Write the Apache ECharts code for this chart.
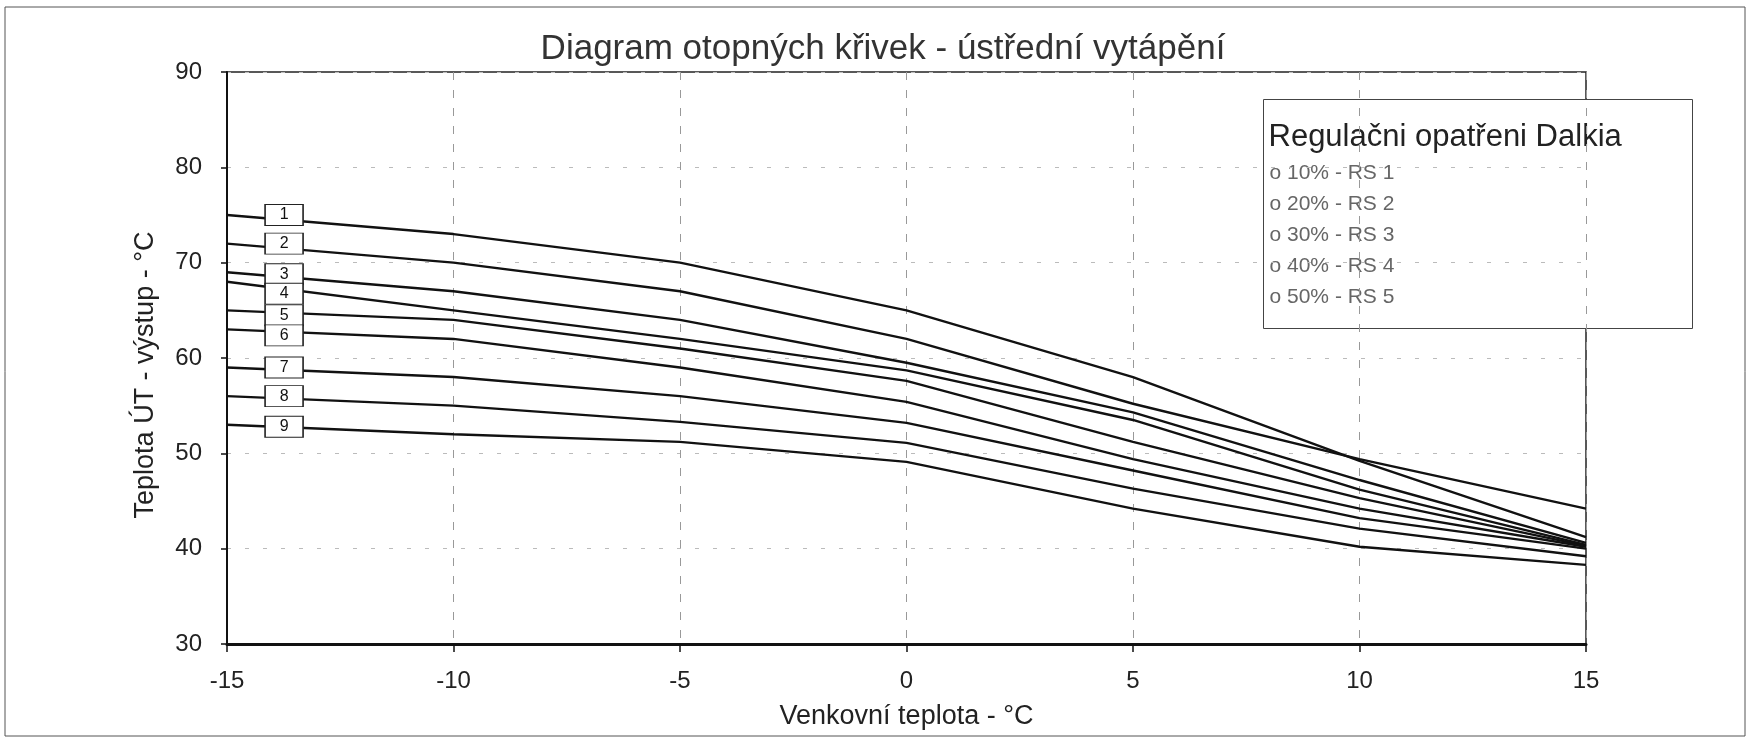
<!doctype html>
<html lang="cs">
  <head>
    <meta charset="UTF-8" />
    <title>Diagram otopných křivek</title>
    <style>
      html,
      body {
        width: 100%;
        height: 100%;
        margin: 0;
        padding: 0;
        background: #fff;
      }
      #Echart {
        width: 1751px;
        height: 740px;
      }
    </style>
  </head>

  <body>
    <div id="Echart"></div>
    <script type="text/javascript" src="https://cdn.jsdelivr.net/npm/echarts@6/dist/echarts.min.js"></script>
    <script type="text/javascript">
      // venkovni teplota (osa x)
      const outdoorTemps = [-15, -10, -5, 0, 5, 10, 15]
      // teplota UT - vystup pro krivky 1..9
      const curve1 = [75, 73, 70, 65, 58, 49.2, 41.2]
      const curve2 = [72, 70, 67, 62, 55.2, 49.4, 44.2]
      const curve3 = [69, 67, 64, 59.5, 54.3, 47.2, 40.6]
      const curve4 = [68, 65, 62, 58.7, 53.5, 46.2, 40.4]
      const curve5 = [65, 64, 61, 57.6, 51.2, 45.3, 40.3]
      const curve6 = [63, 62, 59, 55.4, 49.4, 44.2, 40.2]
      const curve7 = [59, 58, 56, 53.2, 48.2, 43.2, 40]
      const curve8 = [56, 55, 53.3, 51.1, 46.3, 42.1, 39.2]
      const curve9 = [53, 52, 51.2, 49.1, 44.2, 40.2, 38.3]
      const curveNames = ['1', '2', '3', '4', '5', '6', '7', '8', '9']
      const yTicks = [30, 40, 50, 60, 70, 80, 90]
      const xTicks = [-15, -10, -5, 0, 5, 10, 15]
      const legendTitle = 'Regulačni opatřeni Dalkia'
      const legendItems = ['o 10% - RS 1', 'o 20% - RS 2', 'o 30% - RS 3', 'o 40% - RS 4', 'o 50% - RS 5']

      const curves = [curve1, curve2, curve3, curve4, curve5, curve6, curve7, curve8, curve9]
      // posun stitku (px), aby se krabicky 3-6 neprekryvaly
      const boxNudge = [0, 0, 2, 12, 5, 6, 0, 0, 2]
      const boxX = -13.74
      const font = 'Liberation Sans, Arial, sans-serif'

      let chart = null

      function initEchart() {
        const series = curves.map((vals, i) => ({
          name: curveNames[i],
          type: 'line',
          data: outdoorTemps.map((t, j) => [t, vals[j]]),
          showSymbol: false,
          symbol: 'none',
          lineStyle: { color: '#111', width: 2.4 },
          z: 3,
          markPoint: {
            symbol: 'rect',
            symbolSize: [38, 21],
            symbolOffset: [0, boxNudge[i]],
            itemStyle: { color: '#fff', borderColor: '#222', borderWidth: 1.2 },
            label: {
              show: true,
              position: 'inside',
              formatter: curveNames[i],
              color: '#111',
              fontSize: 16,
              fontFamily: font,
            },
            data: [{ coord: [boxX, vals[0]] }],
            animation: false,
          },
        }))

        const option = {
          animation: false,
          backgroundColor: '#fff',
          title: {
            text: 'Diagram otopných křivek - ústřední vytápění',
            left: 878,
            textAlign: 'center',
            top: 27,
            textStyle: {
              color: '#333',
              fontSize: 35,
              fontWeight: 'normal',
              fontFamily: font,
            },
          },
          grid: {
            left: 227,
            right: 165,
            top: 72,
            bottom: 96,
            show: true,
            borderColor: '#222',
            borderWidth: 1.5,
            backgroundColor: '#fff',
          },
          xAxis: {
            type: 'value',
            min: xTicks[0],
            max: xTicks[xTicks.length - 1],
            interval: 5,
            name: 'Venkovní teplota - °C',
            nameLocation: 'middle',
            nameGap: 59,
            nameTextStyle: {
              color: '#222',
              fontSize: 27,
              fontFamily: font,
            },
            axisLine: { show: true, onZero: false, lineStyle: { color: '#111', width: 3 } },
            axisTick: { show: true, length: 8, lineStyle: { color: '#111', width: 1.5 } },
            axisLabel: {
              margin: 25,
              color: '#222',
              fontSize: 24,
              fontFamily: font,
            },
            splitLine: {
              show: true,
              lineStyle: { color: '#999', type: [8, 10], width: 1 },
            },
          },
          yAxis: {
            type: 'value',
            min: yTicks[0],
            max: yTicks[yTicks.length - 1],
            interval: 10,
            name: 'Teplota ÚT - výstup - °C',
            nameLocation: 'middle',
            nameGap: 68,
            nameTextStyle: {
              color: '#222',
              fontSize: 27,
              fontFamily: font,
              padding: [0, 34, 0, 0],
            },
            axisLine: { show: true, onZero: false, lineStyle: { color: '#111', width: 2 } },
            axisTick: { show: true, length: 6, lineStyle: { color: '#111', width: 1.5 } },
            axisLabel: {
              margin: 25,
              color: '#222',
              fontSize: 24,
              fontFamily: font,
            },
            splitLine: {
              show: true,
              lineStyle: { color: '#bbb', type: [4, 14], width: 1 },
            },
          },
          graphic: [
            {
              type: 'rect',
              shape: { x: 5, y: 7, width: 1740, height: 729 },
              style: { fill: 'none', stroke: '#555', lineWidth: 1 },
              silent: true,
              z: -1,
            },
            {
              type: 'group',
              left: 1263,
              top: 99,
              z: 10,
              children: [
                {
                  type: 'rect',
                  shape: { x: 0, y: 0, width: 429, height: 229 },
                  style: { fill: '#fff', stroke: '#444', lineWidth: 1 },
                },
                {
                  type: 'text',
                  x: 5,
                  y: 22,
                  style: {
                    text: legendTitle,
                    fill: '#222',
                    fontSize: 31,
                    fontFamily: font,
                  },
                },
              ].concat(
                legendItems.map((t, i) => ({
                  type: 'text',
                  x: 6,
                  y: 63 + i * 31,
                  style: {
                    text: t,
                    fill: '#666',
                    fontSize: 21,
                    fontFamily: font,
                  },
                }))
              ),
            },
          ],
          series: series,
        }
        chart = echarts.init(document.getElementById('Echart'))
        chart.setOption(option)
      }

      window.onload = function () {
        initEchart()
      }
    </script>
  </body>
</html>
